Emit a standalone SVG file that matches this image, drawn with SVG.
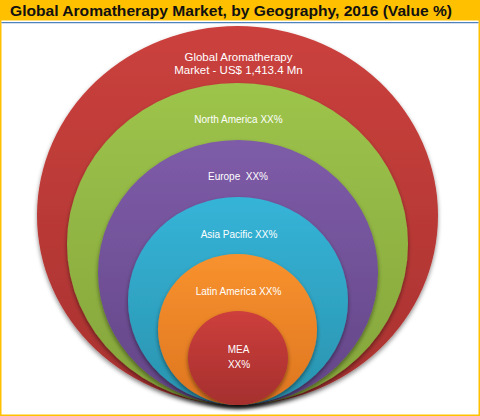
<svg xmlns="http://www.w3.org/2000/svg" width="480" height="416" viewBox="0 0 480 416">
<style>
.title{font-family:"Liberation Sans",Arial,sans-serif;font-weight:bold;font-size:15px;fill:#111}
.lbl{font-family:"Liberation Sans",Arial,sans-serif;fill:#fff;text-anchor:middle}
.big{font-size:11.5px}
.sm{font-size:10px}
.ring{filter:url(#sh)}
</style>
<defs>
<filter id="sh" x="-10%" y="-10%" width="120%" height="125%">
<feDropShadow dx="0" dy="2.5" stdDeviation="2" flood-color="#000" flood-opacity="0.45"/>
</filter>
<linearGradient id="gRed" x1="0" y1="0" x2="0" y2="1"><stop offset="0" stop-color="#CB413D"/><stop offset="1" stop-color="#A83230"/></linearGradient>
<linearGradient id="gGreen" x1="0" y1="0" x2="0" y2="1"><stop offset="0" stop-color="#9DC44B"/><stop offset="1" stop-color="#84A43B"/></linearGradient>
<linearGradient id="gPurple" x1="0" y1="0" x2="0" y2="1"><stop offset="0" stop-color="#7E5CA8"/><stop offset="1" stop-color="#634687"/></linearGradient>
<linearGradient id="gCyan" x1="0" y1="0" x2="0" y2="1"><stop offset="0" stop-color="#35B4D8"/><stop offset="1" stop-color="#2A93AE"/></linearGradient>
<linearGradient id="gOrange" x1="0" y1="0" x2="0" y2="1"><stop offset="0" stop-color="#F8922E"/><stop offset="1" stop-color="#DE7520"/></linearGradient>
<linearGradient id="gMea" x1="0" y1="0" x2="0" y2="1"><stop offset="0" stop-color="#CD3F3C"/><stop offset="1" stop-color="#A52F2E"/></linearGradient>
</defs>
<rect x="0" y="0" width="480" height="416" fill="#fff"/>
<rect x="0.75" y="0.75" width="478.5" height="414.5" fill="none" stroke="#FFC000" stroke-width="1.5"/>
<g id="title">
<rect x="0" y="0" width="480" height="20.5" fill="#FFC000"/>
<line x1="1.5" y1="22.7" x2="478.5" y2="22.7" stroke="#4F81BD" stroke-width="1.2"/>
<text class="title" x="10" y="16" textLength="442" lengthAdjust="spacingAndGlyphs">Global Aromatherapy Market, by Geography, 2016 (Value %)</text>
</g>
<g id="global">
<ellipse class="ring" cx="237.5" cy="215.5" rx="200.5" ry="189.5" fill="url(#gRed)"/>
<text class="lbl big" x="238.5" y="60.5">Global Aromatherapy</text>
<text class="lbl big" x="238.5" y="73.8">Market - US$ 1,413.4 Mn</text>
</g>
<g id="north-america">
<ellipse class="ring" cx="237.5" cy="244" rx="170.5" ry="161" fill="url(#gGreen)"/>
<text class="lbl sm" x="238.5" y="123">North America XX%</text>
</g>
<g id="europe">
<ellipse class="ring" cx="238" cy="272.5" rx="140" ry="132.5" fill="url(#gPurple)"/>
<text class="lbl sm" x="238" y="180" xml:space="preserve">Europe  XX%</text>
</g>
<g id="asia-pacific">
<ellipse class="ring" cx="238" cy="301" rx="110" ry="104" fill="url(#gCyan)"/>
<text class="lbl sm" x="239" y="238">Asia Pacific XX%</text>
</g>
<g id="latin-america">
<ellipse class="ring" cx="237.5" cy="329.5" rx="79.5" ry="75.5" fill="url(#gOrange)"/>
<text class="lbl sm" x="238.5" y="295">Latin America XX%</text>
</g>
<g id="mea">
<ellipse class="ring" cx="238" cy="358" rx="50" ry="47" fill="url(#gMea)"/>
<text class="lbl sm" x="238.5" y="353">MEA</text>
<text class="lbl sm" x="239" y="368">XX%</text>
</g>
</svg>
